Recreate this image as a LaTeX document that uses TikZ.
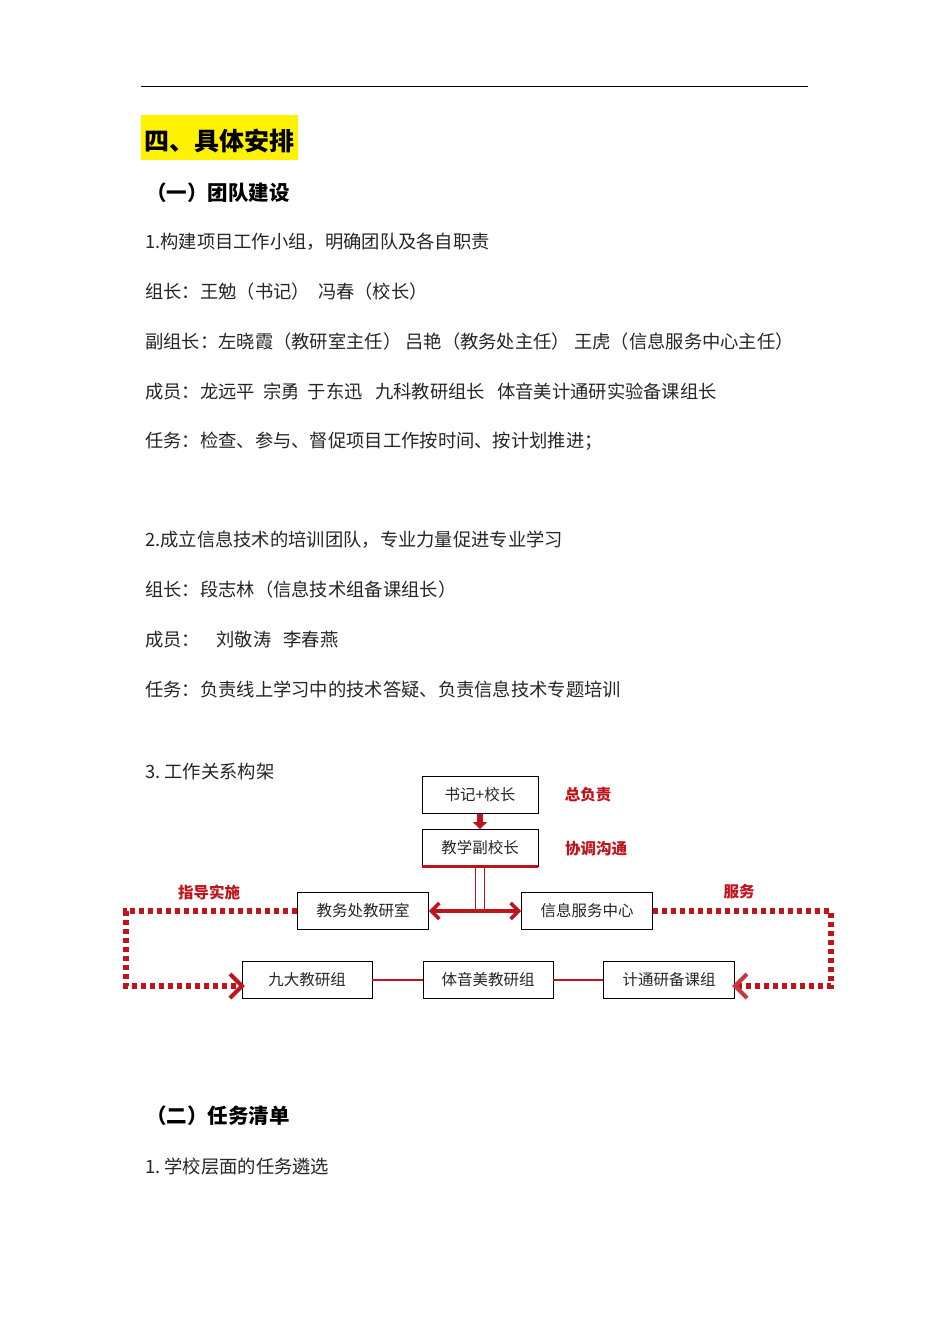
\documentclass[tikz,border=0pt]{standalone}
\usepackage{fontspec}
\setmainfont{Noto Sans CJK SC}
\usetikzlibrary{arrows.meta}
\definecolor{dred}{HTML}{C0141C}
\begin{document}
\begin{tikzpicture}[x=1pt,y=-1pt,
 body/.style={anchor=west,inner sep=0,font=\fontsize{18.3}{19}\selectfont,text=black!85},
 box/.style={draw,thick,minimum width=131,minimum height=37,inner sep=0,font=\fontsize{15.5}{16}\selectfont,text=black!85},
 lab/.style={text=dred,font=\bfseries\fontsize{15.5}{16}\selectfont,inner sep=0},
 dot/.style={draw=dred,line width=5.5pt,dash pattern=on 5pt off 4pt},
 red/.style={draw=dred,line width=2.5pt}]
\useasboundingbox (0,0) rectangle (950,1344);
\fill[white] (0,0) rectangle (950,1344);
\draw[thin] (141,86) -- (808,86);
\fill[yellow] (141,115) rectangle (298,160);
\node[anchor=west,inner sep=0,font=\bfseries\fontsize{25}{25}\selectfont] (h1) at (144,141) {四、具体安排};
\node[anchor=west,inner sep=0,font=\bfseries\fontsize{20.5}{21}\selectfont] (h2) at (146,193) {（一）团队建设};
\node[body] (t1) at (145,242) {1.构建项目工作小组，明确团队及各自职责};
\node[body] (t2) at (145,292) {组长：王勉（书记）\ \ 冯春（校长）};
\node[body] (t3) at (145,342) {副组长：左晓霞（教研室主任）\ 吕艳（教务处主任）\ 王虎（信息服务中心主任）};
\node[body] (t4) at (145,391) {成员：龙远平\ \ 宗勇\ \ 于东迅\ \ \ 九科教研组长\ \ \ 体音美计通研实验备课组长};
\node[body] (t5) at (145,441) {任务：检查、参与、督促项目工作按时间、按计划推进；};
\node[body] (t6) at (145,540) {2.成立信息技术的培训团队，专业力量促进专业学习};
\node[body] (t7) at (145,590) {组长：段志林（信息技术组备课组长）};
\node[body] (t8) at (145,640) {成员：\ \ \ \ 刘敬涛\ \ \ 李春燕};
\node[body] (t9) at (145,689) {任务：负责线上学习中的技术答疑、负责信息技术专题培训};
\node[body] (t10) at (145,772) {3.\ 工作关系构架};
\node[anchor=west,inner sep=0,font=\bfseries\fontsize{20.5}{21}\selectfont] (h3) at (146,1116) {（二）任务清单};
\node[body] (t11) at (145,1167) {1.\ 学校层面的任务遴选};

\node[box,minimum width=116] (a) at (480,795) {书记+校长};
\node[box,minimum width=116] (b) at (480,848) {教学副校长};
\node[box] (c) at (363,911) {教务处教研室};
\node[box] (d) at (587,911) {信息服务中心};
\node[box,minimum width=130] (e) at (307,980) {九大教研组};
\node[box,minimum width=130] (f) at (488,980) {体音美教研组};
\node[box] (g) at (669,980) {计通研备课组};
\node[lab] (l1) at (588,795) {总负责};
\node[lab] (l2) at (596,849) {协调沟通};
\node[lab] (l3) at (209,892) {指导实施};
\node[lab] (l4) at (739,892) {服务};

\draw[draw=dred,line width=6pt,-{Triangle[length=7pt,width=14pt]}] (a.south) -- (b.north);
\draw[red,line width=3pt] (b.south west) -- (b.south east);
\coordinate (m) at (480,911);
\draw[red,line width=1.8pt] ([xshift=-4.5pt]b.south) -- ([xshift=-4.5pt]m) ([xshift=4.5pt]b.south) -- ([xshift=4.5pt]m);
\draw[red,line width=3.5pt,-{Straight Barb[length=8pt,width=16pt]}] (m) -- (c.east);
\draw[red,line width=3.5pt,-{Straight Barb[length=8pt,width=16pt]}] (m) -- (d.west);
\draw[red] (e.east) -- (f.west) (f.east) -- (g.west);
\coordinate (p1) at (126,911); \coordinate (p2) at (126,986);
\coordinate (q1) at (831,911); \coordinate (q2) at (831,986);
\coordinate (ea) at (242,986); \coordinate (ga) at (735,986);
\draw[dot] (c.west) -- (p1) -- (p2) -- (ea);
\draw[dot] (d.east) -- (q1) -- (q2) -- (ga);
\draw[red,line width=4pt] ([xshift=-12,yshift=12]ea) -- (ea) -- ([xshift=-12,yshift=-12]ea);
\draw[draw=dred!85,line width=4pt] ([xshift=12,yshift=12]ga) -- (ga) -- ([xshift=12,yshift=-12]ga);
\end{tikzpicture}
\end{document}
